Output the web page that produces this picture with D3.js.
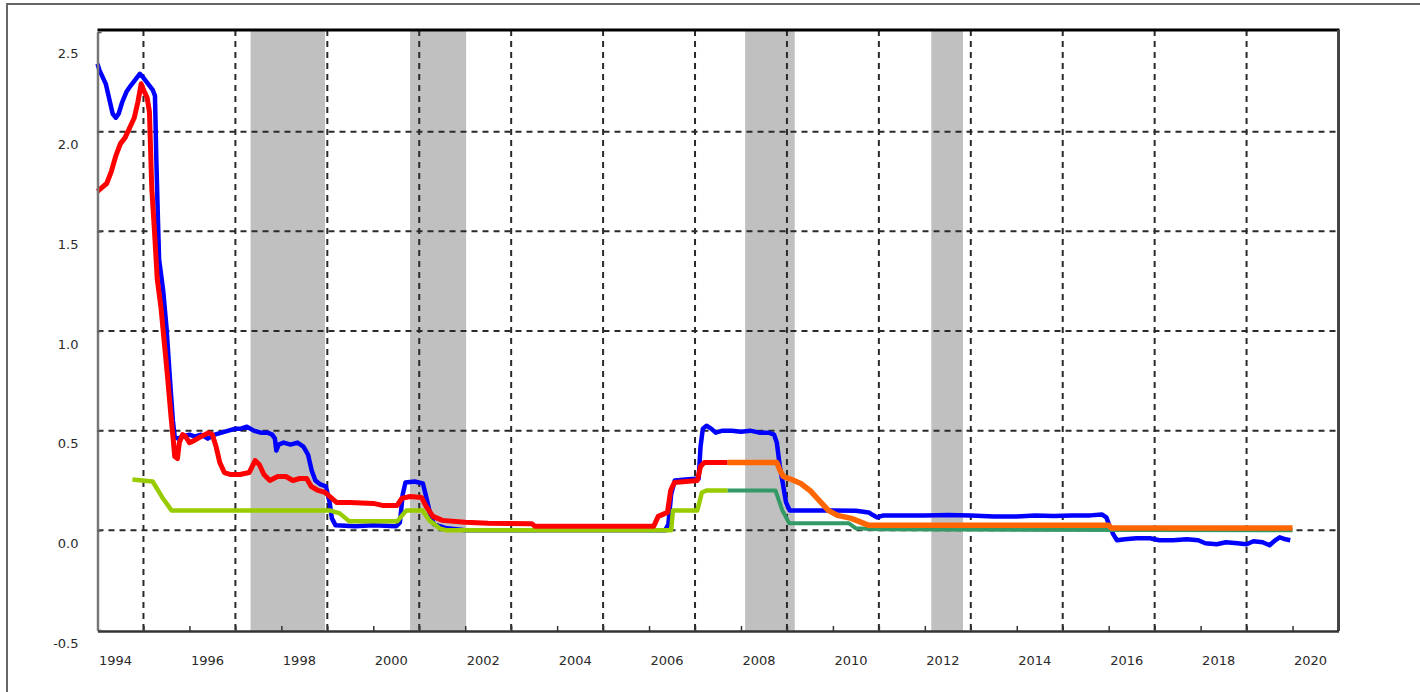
<!DOCTYPE html>
<html>
<head>
<meta charset="utf-8">
<script src="https://cdn.jsdelivr.net/npm/d3@7"></script>
<style>
  html, body { margin: 0; padding: 0; background: #fff; }
  svg { display: block; }
  .tick text { font-family: "DejaVu Sans", sans-serif; font-size: 13px; fill: #2a2a2a; }
</style>
</head>
<body>
<svg id="chart" width="1420" height="692"></svg>
<script>
// ---------------- data ----------------
const yTickValues = [-0.5, 0.0, 0.5, 1.0, 1.5, 2.0, 2.5];
const yGridValues = [0.0, 0.5, 1.0, 1.5, 2.0];
const xGridYears = [1995, 1997, 1999, 2001, 2003, 2005, 2007, 2009, 2011, 2013, 2015, 2017, 2019];
const xLabelYears = [1994, 1996, 1998, 2000, 2002, 2004, 2006, 2008, 2010, 2012, 2014, 2016, 2018, 2020];
const xTickYears = [1995, 1996, 1997, 1998, 1999, 2000, 2001, 2002, 2003, 2004, 2005, 2006, 2007, 2008,
  2009, 2010, 2011, 2012, 2013, 2014, 2015, 2016, 2017, 2018, 2019, 2020];

// shaded periods [start, end]
const shadedPeriods = [
  [1997.33, 1998.95],
  [2000.80, 2002.02],
  [2008.09, 2009.17],
  [2012.14, 2012.83]
];

// blue series
const blueSeries = [
  [1994.00,2.34],[1994.04,2.31],[1994.10,2.28],[1994.18,2.24],[1994.26,2.16],[1994.33,2.09],[1994.40,2.07],
  [1994.46,2.09],[1994.54,2.15],[1994.63,2.20],[1994.72,2.23],[1994.82,2.26],[1994.92,2.29],[1995.00,2.27],
  [1995.10,2.24],[1995.20,2.21],[1995.25,2.18],[1995.28,1.86],[1995.31,1.60],[1995.34,1.36],[1995.38,1.29],
  [1995.43,1.20],[1995.50,1.02],[1995.57,0.78],[1995.64,0.55],[1995.68,0.47],[1995.75,0.46],[1995.85,0.47],
  [1996.00,0.48],[1996.12,0.47],[1996.25,0.48],[1996.40,0.46],[1996.55,0.48],[1996.70,0.49],[1996.85,0.50],
  [1997.00,0.51],[1997.12,0.51],[1997.25,0.52],[1997.40,0.50],[1997.55,0.49],[1997.70,0.49],[1997.80,0.48],
  [1997.86,0.46],[1997.89,0.40],[1997.94,0.43],[1998.05,0.44],[1998.20,0.43],[1998.35,0.44],[1998.48,0.42],
  [1998.58,0.38],[1998.66,0.30],[1998.74,0.25],[1998.85,0.23],[1998.97,0.22],[1999.05,0.14],[1999.10,0.06],
  [1999.18,0.025],[1999.60,0.02],[2000.00,0.025],[2000.50,0.02],[2000.58,0.04],[2000.64,0.18],[2000.70,0.24],
  [2000.90,0.245],[2001.08,0.235],[2001.16,0.16],[2001.24,0.08],[2001.32,0.03],[2001.60,0.01],[2002.00,0.0],
  [2006.35,0.0],[2006.42,0.03],[2006.48,0.18],[2006.56,0.25],[2006.80,0.255],[2007.08,0.26],[2007.12,0.42],
  [2007.17,0.51],[2007.25,0.525],[2007.35,0.51],[2007.45,0.49],[2007.60,0.50],[2007.80,0.50],[2008.00,0.495],
  [2008.20,0.50],[2008.40,0.49],[2008.60,0.49],[2008.72,0.48],[2008.78,0.44],[2008.84,0.33],[2008.90,0.25],
  [2008.98,0.14],[2009.06,0.10],[2009.60,0.10],[2010.00,0.10],[2010.50,0.098],[2010.78,0.09],[2010.86,0.078],
  [2010.96,0.065],[2011.10,0.075],[2011.50,0.075],[2012.00,0.075],[2012.50,0.077],[2013.00,0.075],
  [2013.50,0.07],[2014.00,0.07],[2014.40,0.075],[2014.80,0.072],[2015.20,0.075],[2015.60,0.075],
  [2015.85,0.08],[2015.95,0.065],[2016.02,0.02],[2016.10,-0.02],[2016.18,-0.05],[2016.35,-0.045],
  [2016.60,-0.04],[2016.90,-0.04],[2017.10,-0.05],[2017.40,-0.05],[2017.70,-0.045],[2017.95,-0.05],
  [2018.10,-0.065],[2018.35,-0.07],[2018.55,-0.06],[2018.80,-0.065],[2019.00,-0.07],[2019.15,-0.055],
  [2019.35,-0.06],[2019.50,-0.075],[2019.62,-0.05],[2019.72,-0.035],[2019.85,-0.045],[2019.95,-0.05]
];

// red series (then continued in orange)
const redSeries = [
  [1994.00,1.70],[1994.10,1.72],[1994.20,1.74],[1994.30,1.80],[1994.40,1.88],[1994.50,1.94],[1994.60,1.97],
  [1994.70,2.02],[1994.80,2.07],[1994.88,2.15],[1994.95,2.24],[1995.00,2.21],[1995.08,2.17],[1995.13,2.10],
  [1995.18,1.72],[1995.24,1.50],[1995.30,1.26],[1995.38,1.12],[1995.45,0.95],[1995.52,0.78],[1995.60,0.57],
  [1995.65,0.45],[1995.68,0.37],[1995.74,0.36],[1995.78,0.44],[1995.85,0.48],[1995.92,0.47],[1996.00,0.44],
  [1996.10,0.45],[1996.25,0.47],[1996.42,0.49],[1996.50,0.48],[1996.58,0.42],[1996.66,0.34],[1996.76,0.29],
  [1996.90,0.28],[1997.10,0.28],[1997.30,0.29],[1997.43,0.35],[1997.52,0.33],[1997.62,0.28],[1997.75,0.25],
  [1997.92,0.27],[1998.10,0.27],[1998.25,0.25],[1998.40,0.26],[1998.55,0.26],[1998.65,0.22],[1998.80,0.20],
  [1998.95,0.19],[1999.05,0.17],[1999.20,0.14],[1999.50,0.14],[2000.00,0.135],[2000.20,0.125],[2000.52,0.125],
  [2000.62,0.16],[2000.80,0.17],[2001.05,0.165],[2001.15,0.12],[2001.30,0.07],[2001.50,0.05],[2002.00,0.04],
  [2002.50,0.035],[2003.45,0.033],[2003.52,0.02],[2004.00,0.02],[2005.00,0.02],[2006.10,0.02],[2006.20,0.07],
  [2006.30,0.08],[2006.40,0.09],[2006.47,0.20],[2006.55,0.24],[2006.80,0.245],[2007.05,0.25],[2007.12,0.32],
  [2007.20,0.34],[2007.71,0.34]
];
const orangeSeries = [
  [2007.71,0.34],[2008.78,0.34],[2008.85,0.30],[2008.92,0.27],[2009.10,0.255],[2009.30,0.235],[2009.50,0.20],
  [2009.70,0.15],[2009.90,0.10],[2010.10,0.075],[2010.40,0.06],[2010.62,0.04],[2010.78,0.025],[2016.00,0.025],
  [2016.06,0.012],[2020.00,0.012]
];

// green series (then continued in dark green)
const greenSeries = [
  [1994.76,0.255],[1995.20,0.245],[1995.41,0.165],[1995.61,0.10],[1999.05,0.10],[1999.27,0.085],[1999.48,0.045],
  [2000.52,0.045],[2000.72,0.10],[2001.07,0.10],[2001.22,0.05],[2001.44,0.01],[2001.60,0.0],[2006.48,0.0],
  [2006.52,0.10],[2007.05,0.10],[2007.15,0.19],[2007.25,0.20],[2007.71,0.20]
];
const darkGreenSeries = [
  [2007.71,0.20],[2008.75,0.20],[2008.90,0.10],[2009.05,0.035],[2010.35,0.035],[2010.50,0.01],[2011.00,0.005],
  [2020.00,0.0]
];

// ---------------- drawing ----------------
(function () {
const svg = d3.select("#chart");
const pLeft = 97.5, pRight = 1338.5, pTop = 30, pBottom = 631;

const x = d3.scaleLinear().domain([1994, 2021]).range([pLeft, pRight]);
const y = d3.scaleLinear().domain([-0.5, 2.5]).range([630, 32]);

// outer frame
svg.append("rect")
  .attr("x", 7).attr("y", 4).attr("width", 1430).attr("height", 700)
  .attr("fill", "none").attr("stroke", "#666").attr("stroke-width", 2);

// plot background
svg.append("rect")
  .attr("x", pLeft).attr("y", pTop).attr("width", pRight - pLeft).attr("height", pBottom - pTop)
  .attr("fill", "#fff");

// shaded periods
svg.append("g").selectAll("rect").data(shadedPeriods).join("rect")
  .attr("x", d => x(d[0]))
  .attr("width", d => x(d[1]) - x(d[0]))
  .attr("y", pTop).attr("height", pBottom - pTop)
  .attr("fill", "#c0c0c0");

// grid lines
const grid = svg.append("g").attr("stroke", "#2a2a2a").attr("stroke-width", 2).attr("stroke-dasharray", "6,5");
grid.selectAll("line.h").data(yGridValues).join("line").attr("class", "h")
  .attr("x1", pLeft).attr("x2", pRight)
  .attr("y1", d => y(d)).attr("y2", d => y(d));
grid.selectAll("line.v").data(xGridYears).join("line").attr("class", "v")
  .attr("y1", pTop).attr("y2", pBottom)
  .attr("x1", d => x(d)).attr("x2", d => x(d));

// lines
const line = d3.line().x(d => x(d[0])).y(d => y(d[1])).curve(d3.curveLinear);
function drawLine(data, color, width) {
  svg.append("path").datum(data)
    .attr("d", line)
    .attr("fill", "none")
    .attr("stroke", color)
    .attr("stroke-width", width)
    .attr("stroke-linejoin", "round")
    .attr("stroke-linecap", "butt");
}
drawLine(blueSeries, "#0000ff", 4.5);
drawLine(greenSeries, "#99cc00", 4.5);
drawLine(darkGreenSeries, "#339966", 4);
drawLine(redSeries, "#ff0000", 5);
drawLine(orangeSeries, "#ff6600", 5.5);

// frame lines
svg.append("line").attr("x1", pLeft).attr("x2", pRight + 1).attr("y1", pTop).attr("y2", pTop)
  .attr("stroke", "#000").attr("stroke-width", 3);
svg.append("line").attr("x1", pRight).attr("x2", pRight).attr("y1", pTop).attr("y2", pBottom)
  .attr("stroke", "#444").attr("stroke-width", 3);

// x axis
const xAxis = d3.axisBottom(x)
  .tickValues(xTickYears)
  .tickSizeInner(-5).tickSizeOuter(0)
  .tickPadding(25)
  .tickFormat(d => xLabelYears.includes(d) ? String(d) : "");
const gx = svg.append("g").attr("transform", `translate(0,${pBottom})`).call(xAxis);
gx.select(".domain").attr("stroke", "#333").attr("stroke-width", 2.5);
gx.selectAll(".tick line").attr("stroke", "#333").attr("stroke-width", 1.5);
gx.selectAll(".tick text").attr("text-anchor", "start").attr("dx", 1);
// label for 1994 (at the left edge, no tick mark)
const labelsOnly = d3.axisBottom(x).tickValues([1994]).tickSize(0).tickPadding(25).tickFormat(d => String(d));
const gx2 = svg.append("g").attr("transform", `translate(0,${pBottom})`).call(labelsOnly);
gx2.select(".domain").remove();
gx2.selectAll(".tick text").attr("text-anchor", "start").attr("dx", 1);

// y axis
const yAxis = d3.axisLeft(y)
  .tickValues(yTickValues)
  .tickSizeInner(-4).tickSizeOuter(0)
  .tickPadding(19)
  .tickFormat(d => d.toFixed(1));
const gy = svg.append("g").attr("transform", `translate(${pLeft},0)`).call(yAxis);
gy.select(".domain").attr("stroke", "#777").attr("stroke-width", 2.5);
gy.selectAll(".tick line").attr("stroke", "#555").attr("stroke-width", 1.5);
gy.selectAll(".tick text").attr("y", d => d === 2.5 ? 21 : 13);
})();
</script>
</body>
</html>
